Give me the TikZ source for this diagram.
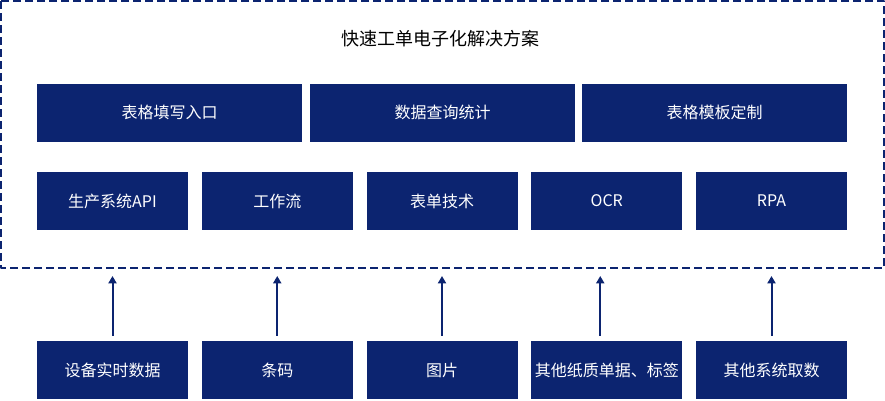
\documentclass[tikz,border=0pt]{standalone}
\usepackage{fontspec}
\setmainfont{Noto Sans CJK SC}
\usetikzlibrary{arrows.meta}
\definecolor{navyblue}{RGB}{12,36,112}
\begin{document}
\begin{tikzpicture}[x=0.75pt,y=-0.75pt,line join=round,>={Triangle[width=6pt,length=5.5pt]},
	box/.style={fill=navyblue,text=white,font=\fontsize{12}{14}\selectfont,minimum height=43.5pt,inner sep=0pt},
	widebox/.style={box,minimum width=198.75pt},
	smallbox/.style={box,minimum width=113.25pt},
	arr/.style={->,navyblue,line width=1.5pt}]
	\useasboundingbox (0,0) rectangle (885,400);
	%Khung nét đứt
	\draw[navyblue,line width=1.5pt,dash pattern=on 6pt off 3pt] (1,1) rectangle (884,268);
	\node (title) at (440,39) {\fontsize{13.5}{16}\selectfont 快速工单电子化解决方案};
	%Hàng trên
	\foreach \i/\x/\t in {1/169.5/表格填写入口,2/442.5/数据查询统计,3/714.5/表格模板定制}
		\node[widebox] (w\i) at (\x,112.5) {\t};
	%Hàng giữa và hàng dưới
	\foreach \i/\m/\b in {1/生产系统API/设备实时数据,2/工作流/条码,3/表单技术/图片,4/OCR/其他纸质单据、标签,5/RPA/其他系统取数}{
		\node[smallbox] (m\i) at ({112.5+164.75*(\i-1)},201) {\m};
		\node[smallbox] (b\i) at ({112.5+164.75*(\i-1)},370) {\b};
	}
	%Mũi tên
	\foreach \i/\d in {1/0,2/0,3/0,4/-6.5,5/0}{
		\coordinate (t\i) at ({112.5+164.75*(\i-1)+\d},276);
		\draw[arr,shorten <=3.75pt] (b\i.north -| t\i) -- (t\i);
	}
\end{tikzpicture}
\end{document}
